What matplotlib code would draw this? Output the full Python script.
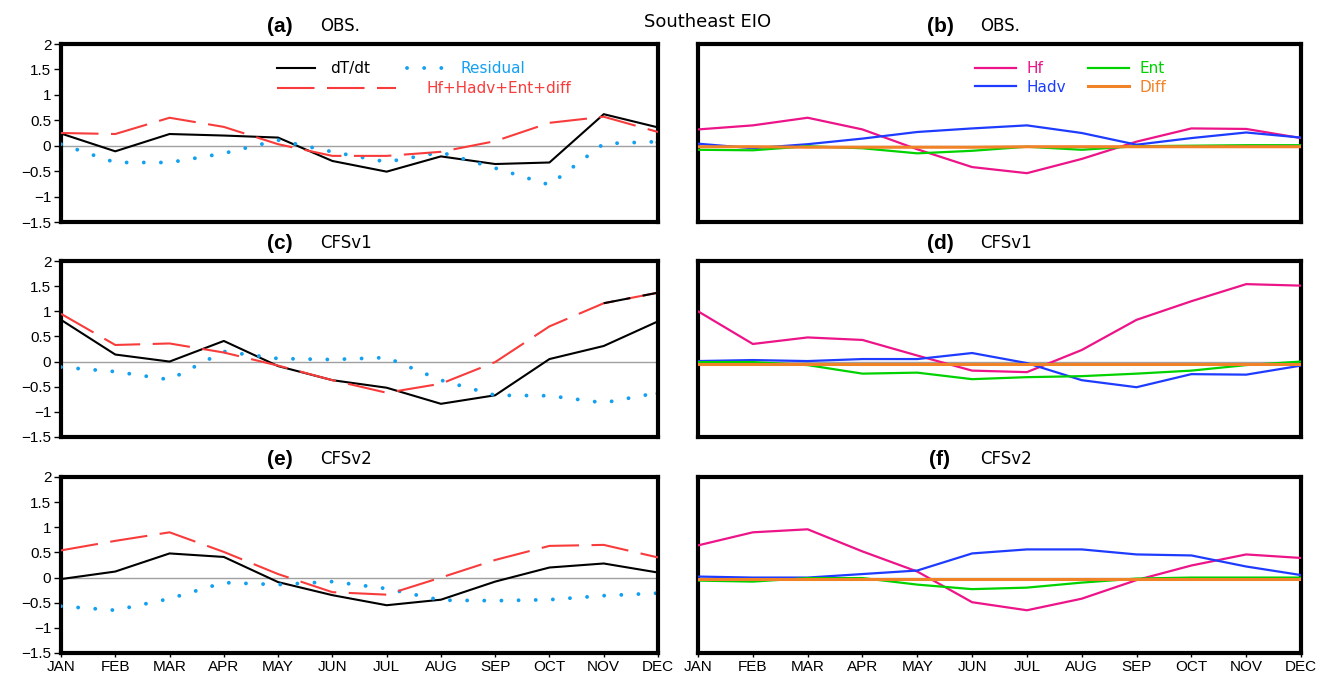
import matplotlib
matplotlib.use("Agg")
import matplotlib.pyplot as plt
import numpy as np

months = ['JAN', 'FEB', 'MAR', 'APR', 'MAY', 'JUN', 'JUL', 'AUG', 'SEP', 'OCT', 'NOV', 'DEC']

# left column: dT/dt, sum of terms, residual
a_dtdt = [0.24, -0.11, 0.23, 0.20, 0.16, -0.30, -0.51, -0.21, -0.36, -0.33, 0.62, 0.36]
a_sum = [0.25, 0.23, 0.55, 0.37, 0.03, -0.20, -0.20, -0.12, 0.09, 0.45, 0.57, 0.27]
a_res = [0.03, -0.33, -0.33, -0.15, 0.11, -0.12, -0.32, -0.13, -0.44, -0.77, 0.04, 0.08]

c_dtdt = [0.83, 0.14, 0.0, 0.41, -0.09, -0.37, -0.52, -0.84, -0.67, 0.05, 0.31, 0.80]
c_sum = [0.95, 0.33, 0.36, 0.18, -0.08, -0.37, -0.62, -0.44, -0.01, 0.70, 1.16, 1.37]
c_res = [-0.11, -0.20, -0.36, 0.20, 0.06, 0.04, 0.08, -0.37, -0.67, -0.68, -0.82, -0.62]

e_dtdt = [-0.03, 0.12, 0.48, 0.41, -0.09, -0.35, -0.55, -0.44, -0.08, 0.20, 0.28, 0.10]
e_sum = [0.54, 0.73, 0.90, 0.51, 0.07, -0.29, -0.34, 0.0, 0.35, 0.63, 0.65, 0.40]
e_res = [-0.57, -0.65, -0.42, -0.10, -0.14, -0.08, -0.22, -0.45, -0.46, -0.44, -0.36, -0.31]

# right column: individual terms
b_hf = [0.32, 0.40, 0.55, 0.32, -0.07, -0.42, -0.54, -0.26, 0.08, 0.34, 0.33, 0.15]
b_hadv = [0.04, -0.05, 0.03, 0.14, 0.27, 0.34, 0.40, 0.25, 0.02, 0.15, 0.26, 0.16]
b_ent = [-0.08, -0.09, -0.01, -0.05, -0.15, -0.10, -0.02, -0.08, -0.01, 0.0, 0.01, 0.01]
b_diff = [-0.02, -0.02, -0.03, -0.03, -0.03, -0.03, -0.02, -0.02, -0.02, -0.02, -0.02, -0.02]

d_hf = [1.00, 0.35, 0.48, 0.43, 0.12, -0.18, -0.21, 0.23, 0.83, 1.20, 1.54, 1.51]
d_hadv = [0.01, 0.03, 0.01, 0.05, 0.05, 0.17, -0.03, -0.37, -0.51, -0.25, -0.26, -0.08]
d_ent = [-0.01, -0.01, -0.07, -0.24, -0.22, -0.35, -0.31, -0.29, -0.24, -0.18, -0.07, 0.0]
d_diff = [-0.04, -0.04, -0.04, -0.04, -0.04, -0.04, -0.04, -0.04, -0.04, -0.04, -0.04, -0.04]

f_hf = [0.64, 0.90, 0.96, 0.52, 0.12, -0.49, -0.65, -0.42, -0.05, 0.24, 0.46, 0.39]
f_hadv = [0.02, 0.0, 0.0, 0.07, 0.14, 0.48, 0.56, 0.56, 0.46, 0.44, 0.22, 0.05]
f_ent = [-0.06, -0.08, -0.01, -0.01, -0.14, -0.23, -0.20, -0.10, -0.02, 0.0, 0.0, 0.0]
f_diff = [-0.03, -0.03, -0.03, -0.03, -0.03, -0.03, -0.03, -0.03, -0.03, -0.03, -0.03, -0.03]

panel_tags = ['(a)', '(b)', '(c)', '(d)', '(e)', '(f)']
panel_names = ['OBS.', 'OBS.', 'CFSv1', 'CFSv1', 'CFSv2', 'CFSv2']

yticks = [-1.5, -1, -0.5, 0, 0.5, 1, 1.5, 2]
ytick_labels = ['\u22121.5', '\u22121', '\u22120.5', '0', '0.5', '1', '1.5', '2']

W, H = 1324, 678
fig = plt.figure(figsize=(W / 100, H / 100), dpi=100)

col_x = [(61, 658), (698, 1301)]
row_y = [(44, 222), (261, 437), (477, 653)]

c_dt = 'black'
c_sum_col = '#f83c3c'
c_res_col = '#14a0f0'
c_hf = '#ec1488'
c_hadv = '#1e3cff'
c_ent = '#00d200'
c_diff = '#f08228'

x = np.arange(12)
tick_font = dict(family=['Liberation Sans', 'DejaVu Sans'], size=11)


def make_ax(col, row):
    x0, x1 = col_x[col]
    y0, y1 = row_y[row]
    ax = fig.add_axes([x0 / W, 1 - y1 / H, (x1 - x0) / W, (y1 - y0) / H])
    ax.set_xlim(0, 11)
    ax.set_ylim(-1.5, 2)
    for s in ax.spines.values():
        s.set_linewidth(3)
    ax.axhline(0, color='#a0a0a0', lw=1, zorder=1)
    ax.set_xticks(x)
    if row == 2:
        ax.set_xticklabels(months, fontdict=tick_font)
        ax.tick_params(axis='x', length=3, width=1, pad=2)
    else:
        ax.tick_params(axis='x', length=0, labelbottom=False)
    if col == 0:
        ax.set_yticks(yticks)
        ax.set_yticklabels(ytick_labels, fontdict=tick_font)
        ax.tick_params(axis='y', length=5, width=1, pad=2)
    else:
        ax.set_yticks([])
    return ax


def left_panel(ax, dtdt, tot, res, black_tail=False):
    l1, = ax.plot(x, dtdt, color=c_dt, lw=1.5, zorder=3)
    l3, = ax.plot(x, res, color=c_res_col, lw=2.8, linestyle=(0, (0.01, 4.4)),
                  dash_capstyle='round', zorder=4)
    l2, = ax.plot(x, tot, color=c_sum_col, lw=1.5, linestyle=(0, (18, 6)), zorder=5)
    if black_tail:
        ax.plot(x[-2:], tot[-2:], color='black', lw=1.5, linestyle=(5, (18, 6)), zorder=6)
    ax.plot(x[-1:], res[-1:], 'o', color='black', ms=3, zorder=6)
    return l1, l2, l3


def right_panel(ax, hf, hadv, ent, diff):
    h1, = ax.plot(x, hf, color=c_hf, lw=1.6, zorder=3)
    h2, = ax.plot(x, hadv, color=c_hadv, lw=1.6, zorder=3)
    h3, = ax.plot(x, ent, color=c_ent, lw=1.6, zorder=3)
    h4, = ax.plot(x, diff, color=c_diff, lw=2.2, zorder=4)
    return h1, h2, h3, h4


ax_a = make_ax(0, 0)
ax_b = make_ax(1, 0)
ax_c = make_ax(0, 1)
ax_d = make_ax(1, 1)
ax_e = make_ax(0, 2)
ax_f = make_ax(1, 2)

la = left_panel(ax_a, a_dtdt, a_sum, a_res)
left_panel(ax_c, c_dtdt, c_sum, c_res, black_tail=True)
left_panel(ax_e, e_dtdt, e_sum, e_res)

rb = right_panel(ax_b, b_hf, b_hadv, b_ent, b_diff)
right_panel(ax_d, d_hf, d_hadv, d_ent, d_diff)
right_panel(ax_f, f_hf, f_hadv, f_ent, f_diff)

# legends
leg_font = dict(family='DejaVu Sans', size=11)
leg1 = ax_a.legend([la[0], la[2]], ['dT/dt', 'Residual'], ncol=2, loc='center left',
                   bbox_to_anchor=(0.362, 0.86), frameon=False, prop=leg_font,
                   labelcolor='linecolor', handlelength=2.5, handletextpad=1.0,
                   columnspacing=2.4, borderpad=0, borderaxespad=0)
ax_a.add_artist(leg1)
ax_a.legend([la[1]], ['Hf+Hadv+Ent+diff'], loc='center left',
            bbox_to_anchor=(0.362, 0.75), frameon=False, prop=leg_font,
            labelcolor='linecolor', handlelength=7.8, handletextpad=2.0,
            borderpad=0, borderaxespad=0)

ax_b.legend([rb[0], rb[1], rb[2], rb[3]], ['Hf', 'Hadv', 'Ent', 'Diff'], ncol=2,
            loc='center left', bbox_to_anchor=(0.459, 0.81), frameon=False,
            prop=leg_font, labelcolor='linecolor', handlelength=2.7,
            handletextpad=0.7, columnspacing=1.4, labelspacing=0.25,
            borderpad=0, borderaxespad=0)

# titles
title_base = [32, 249, 465]
for i, tag in enumerate(panel_tags):
    row, col = i // 2, i % 2
    cx = 280 if col == 0 else 940
    fig.text(cx / W, 1 - title_base[row] / H, tag, ha='center', va='baseline',
             fontsize=15, fontweight='bold',
             family=['Liberation Sans Narrow', 'Liberation Sans', 'DejaVu Sans'])
    fig.text((cx + 40) / W, 1 - (title_base[row] - 1) / H, panel_names[i],
             ha='left', va='baseline', fontsize=12, family='DejaVu Sans')

fig.text(708 / W, 1 - 27 / H, 'Southeast EIO', ha='center', va='baseline',
         fontsize=13, family='DejaVu Sans')

fig.savefig('out.png', dpi=100)
